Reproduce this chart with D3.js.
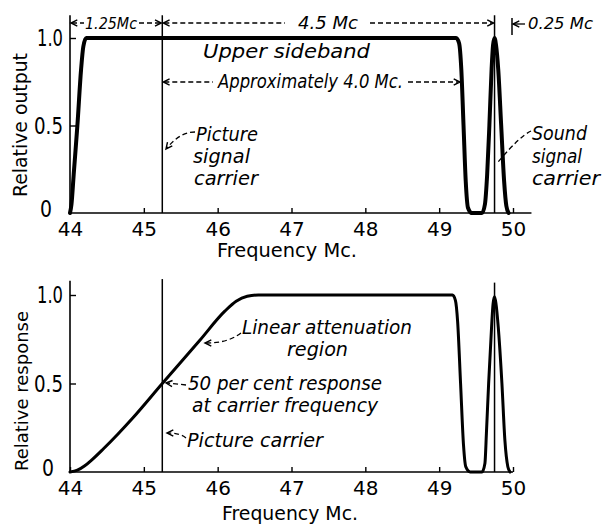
<!DOCTYPE html>
<html><head><meta charset="utf-8">
<script src="https://cdn.jsdelivr.net/npm/d3@7"></script>
<style>
html,body{margin:0;padding:0;background:#fff;}
svg{display:block;}
</style></head><body>
<svg id="c" width="602" height="527"></svg>
<script>
// ---- data ----
const freqTicks = [44, 45, 46, 47, 48, 49, 50];
const levelTicks = [0, 0.5, 1.0];
const levelLabels = ["0", "0.5", "1.0"];
const pictureCarrier = 45.25;
const soundCarrier = 49.75;
const channelEnd = 50.0;
const topAxisEnd = 50.25;

// upper chart: transmitter relative output
const topFreq   = [44.00, 44.02, 44.05, 44.10, 44.15, 44.18, 44.22, 44.30, 49.23, 49.27, 49.30, 49.33, 49.36, 49.39, 49.44, 49.58, 49.62, 49.65, 49.68, 49.71, 49.73, 49.75, 49.77, 49.80, 49.84, 49.88, 49.91, 49.94];
const topOutput = [0,     0.05,  0.22,  0.50,  0.82,  0.95,  1.00,  1.00,  1.00,  0.97,  0.82,  0.50,  0.18,  0.03,  0,     0,     0.05,  0.22,  0.50,  0.82,  0.96,  1.00,  0.96,  0.82,  0.50,  0.18,  0.04,  0];

// lower chart: receiver relative response
const bottomFreq     = [44.00, 44.10, 44.20, 44.30, 44.45, 44.65, 44.85, 45.25, 45.75, 46.10, 46.25, 46.40, 46.55, 49.18, 49.22, 49.25, 49.29, 49.33, 49.36, 49.42, 49.58, 49.62, 49.64, 49.67, 49.71, 49.73, 49.75, 49.77, 49.80, 49.85, 49.89, 49.93, 49.96];
const bottomResponse = [0,     0.01,  0.035, 0.07,  0.13,  0.215, 0.305, 0.50,  0.74,  0.91,  0.965, 0.993, 1.00,  1.00,  0.97,  0.85,  0.50,  0.15,  0.03,  0,     0,     0.05,  0.22,  0.50,  0.82,  0.95,  0.99,  0.95,  0.82,  0.50,  0.18,  0.03,  0];

// ---- drawing ----
const svg = d3.select("#c");
const FONT = "'DejaVu Sans', sans-serif";
const x = d3.scaleLinear().domain([44, 50]).range([70, 513]);
const yTop = d3.scaleLinear().domain([0, 1]).range([213, 38]);
const yBot = d3.scaleLinear().domain([0, 1]).range([472, 295]);

function txt(s, tx, ty, size, len, italic, extra) {
  const t = svg.append("text").attr("x", tx).attr("y", ty)
    .attr("font-family", FONT).attr("font-size", size)
    .attr("font-style", italic ? "italic" : "normal")
    .attr("fill", "#000").text(s);
  if (len) t.attr("textLength", len).attr("lengthAdjust", "spacingAndGlyphs");
  if (extra) extra(t);
  return t;
}
function dashed(d) {
  svg.append("path").attr("d", d).attr("fill", "none").attr("stroke", "#000")
    .attr("stroke-width", 1.3).attr("stroke-dasharray", "5,3");
}
function head(hx, hy, angleDeg) {
  // chevron arrowhead whose tip is at (hx,hy), pointing in direction angleDeg
  const a = angleDeg * Math.PI / 180, L = 7, w = 0.45;
  const p1 = [hx - L * Math.cos(a - w), hy - L * Math.sin(a - w)];
  const p2 = [hx - L * Math.cos(a + w), hy - L * Math.sin(a + w)];
  svg.append("path").attr("d", `M${p1}L${hx},${hy}L${p2}`)
    .attr("fill", "none").attr("stroke", "#000").attr("stroke-width", 1.4);
}

function panel(y, freq, vals, opt) {
  const g = svg.append("g");
  // carrier lines
  [[pictureCarrier, opt.picTop], [soundCarrier, opt.sndTop]].forEach(([f, top]) => {
    g.append("line").attr("x1", x(f)).attr("x2", x(f)).attr("y1", y(0)).attr("y2", y(top))
      .attr("stroke", "#000").attr("stroke-width", 1.5);
  });
  // y axis line
  g.append("line").attr("x1", x(44)).attr("x2", x(44)).attr("y1", y(0)).attr("y2", y(opt.axisTop))
    .attr("stroke", "#000").attr("stroke-width", 1.6);
  // x axis line
  g.append("line").attr("x1", x(44)).attr("x2", x(opt.axisEnd)).attr("y1", y(0)).attr("y2", y(0))
    .attr("stroke", "#000").attr("stroke-width", 1.6);
  // x ticks
  const xa = g.append("g").attr("transform", `translate(0,${y(0)})`)
    .call(d3.axisBottom(x).tickValues(freqTicks).tickSize(-5).tickSizeOuter(0).tickPadding(9).tickFormat(d3.format("d")));
  xa.select(".domain").remove();
  xa.selectAll("line").attr("stroke", "#000").attr("stroke-width", 1.4);
  xa.selectAll("text").attr("font-family", FONT).attr("font-size", 20).attr("fill", "#000");
  // y ticks
  const ya = g.append("g").attr("transform", `translate(${x(44)},0)`)
    .call(d3.axisLeft(y).tickValues(levelTicks.slice(1)).tickSize(-6).tickSizeOuter(0).tickFormat(""));
  ya.select(".domain").remove();
  ya.selectAll("line").attr("stroke", "#000").attr("stroke-width", 1.4);
  // y labels
  levelTicks.forEach((v, i) => {
    const isZero = v === 0;
    txt(levelLabels[i], x(44) - (isZero ? opt.zeroGap : 7), y(v) + (isZero ? -4 : 0), 23,
        isZero ? 12 : (i === 1 ? 29 : 26), false,
        t => t.attr("text-anchor", "end").attr("dominant-baseline", "central"));
  });
  // curve
  const pts = freq.map((f, i) => ({ f, v: vals[i] }));
  g.append("path").datum(pts)
    .attr("d", d3.line().x(d => x(d.f)).y(d => y(d.v)).curve(d3.curveMonotoneX))
    .attr("fill", "none").attr("stroke", "#000").attr("stroke-width", opt.width)
    .attr("stroke-linejoin", "round").attr("stroke-linecap", "round");
}

panel(yTop, topFreq, topOutput, { picTop: 1.13, sndTop: 1.13, axisTop: 1.13, axisEnd: topAxisEnd, width: 4, zeroGap: 18 });
panel(yBot, bottomFreq, bottomResponse, { picTop: 1.09, sndTop: 1.07, axisTop: 1.08, axisEnd: channelEnd, width: 3, zeroGap: 16 });

// axis titles
txt("Relative output", 0, 0, 19, 144, false, t => t.attr("text-anchor", "middle").attr("transform", "translate(27,125) rotate(-90)"));
txt("Relative response", 0, 0, 18, 160, false, t => t.attr("text-anchor", "middle").attr("transform", "translate(28,391) rotate(-90)"));
txt("Frequency Mc.", 217, 257, 19, 140, false);
txt("Frequency Mc.", 222, 520, 19, 136, false);

// ---- upper annotations ----
const rowY = 23;
// 1.25 Mc
head(x(44) + 1, rowY, 180);
dashed(`M${x(44) + 2},${rowY}H84`);
txt("1.25Mc", 85, 29, 16, 52, true);
dashed(`M139,${rowY}H${x(pictureCarrier) - 1}`);
head(x(pictureCarrier) - 1, rowY, 0);
// 4.5 Mc
head(x(pictureCarrier) + 1, rowY, 180);
dashed(`M${x(pictureCarrier) + 2},${rowY}H285`);
txt("4.5 Mc", 298, 29, 17, 60, true);
dashed(`M370,${rowY}H${x(soundCarrier) - 1}`);
head(x(soundCarrier) - 1, rowY, 0);
// 0.25 Mc
svg.append("line").attr("x1", x(channelEnd) - 1).attr("x2", x(channelEnd) - 1).attr("y1", 18).attr("y2", 35)
  .attr("stroke", "#000").attr("stroke-width", 1.5);
head(x(channelEnd), 24, 180);
svg.append("line").attr("x1", x(channelEnd)).attr("x2", 525).attr("y1", 24).attr("y2", 24).attr("stroke", "#000").attr("stroke-width", 1.3);
txt("0.25 Mc", 528, 29, 16, 65, true);

txt("Upper sideband", 203, 58, 20, 167, true);
// Approximately 4.0 Mc.
head(x(pictureCarrier) + 1, 82, 180);
dashed(`M${x(pictureCarrier) + 2},82H213`);
txt("Approximately 4.0 Mc.", 218, 88, 20, 185, true);
dashed(`M408,82H458`);
head(460, 82, 0);

// picture signal carrier
txt("Picture", 196, 141, 20, 62, true);
txt("signal", 193, 163, 20, 57, true);
txt("carrier", 194, 185, 20, 64, true);
dashed(`M195,132Q180,132 167,148`);
head(166, 149, 128);
// sound signal carrier
txt("Sound", 532, 140, 20, 55, true);
txt("signal", 532, 163, 20, 50, true);
txt("carrier", 532, 185, 20, 68, true);
dashed(`M531,131Q520,136 498,162`);

// ---- lower annotations ----
txt("Linear attenuation", 242, 334, 20, 170, true);
txt("region", 287, 356, 20, 61, true);
dashed(`M241,333Q228,343 207,343`);
head(205, 343, 180);
txt("50 per cent response", 188, 390, 20, 194, true);
txt("at carrier frequency", 192, 412, 20, 186, true);
dashed(`M186,385L167,383`);
head(166, 383, 185);
txt("Picture carrier", 187, 447, 20, 136, true);
dashed(`M186,438Q180,433 168,433`);
head(167, 433, 180);
</script>
</body></html>
